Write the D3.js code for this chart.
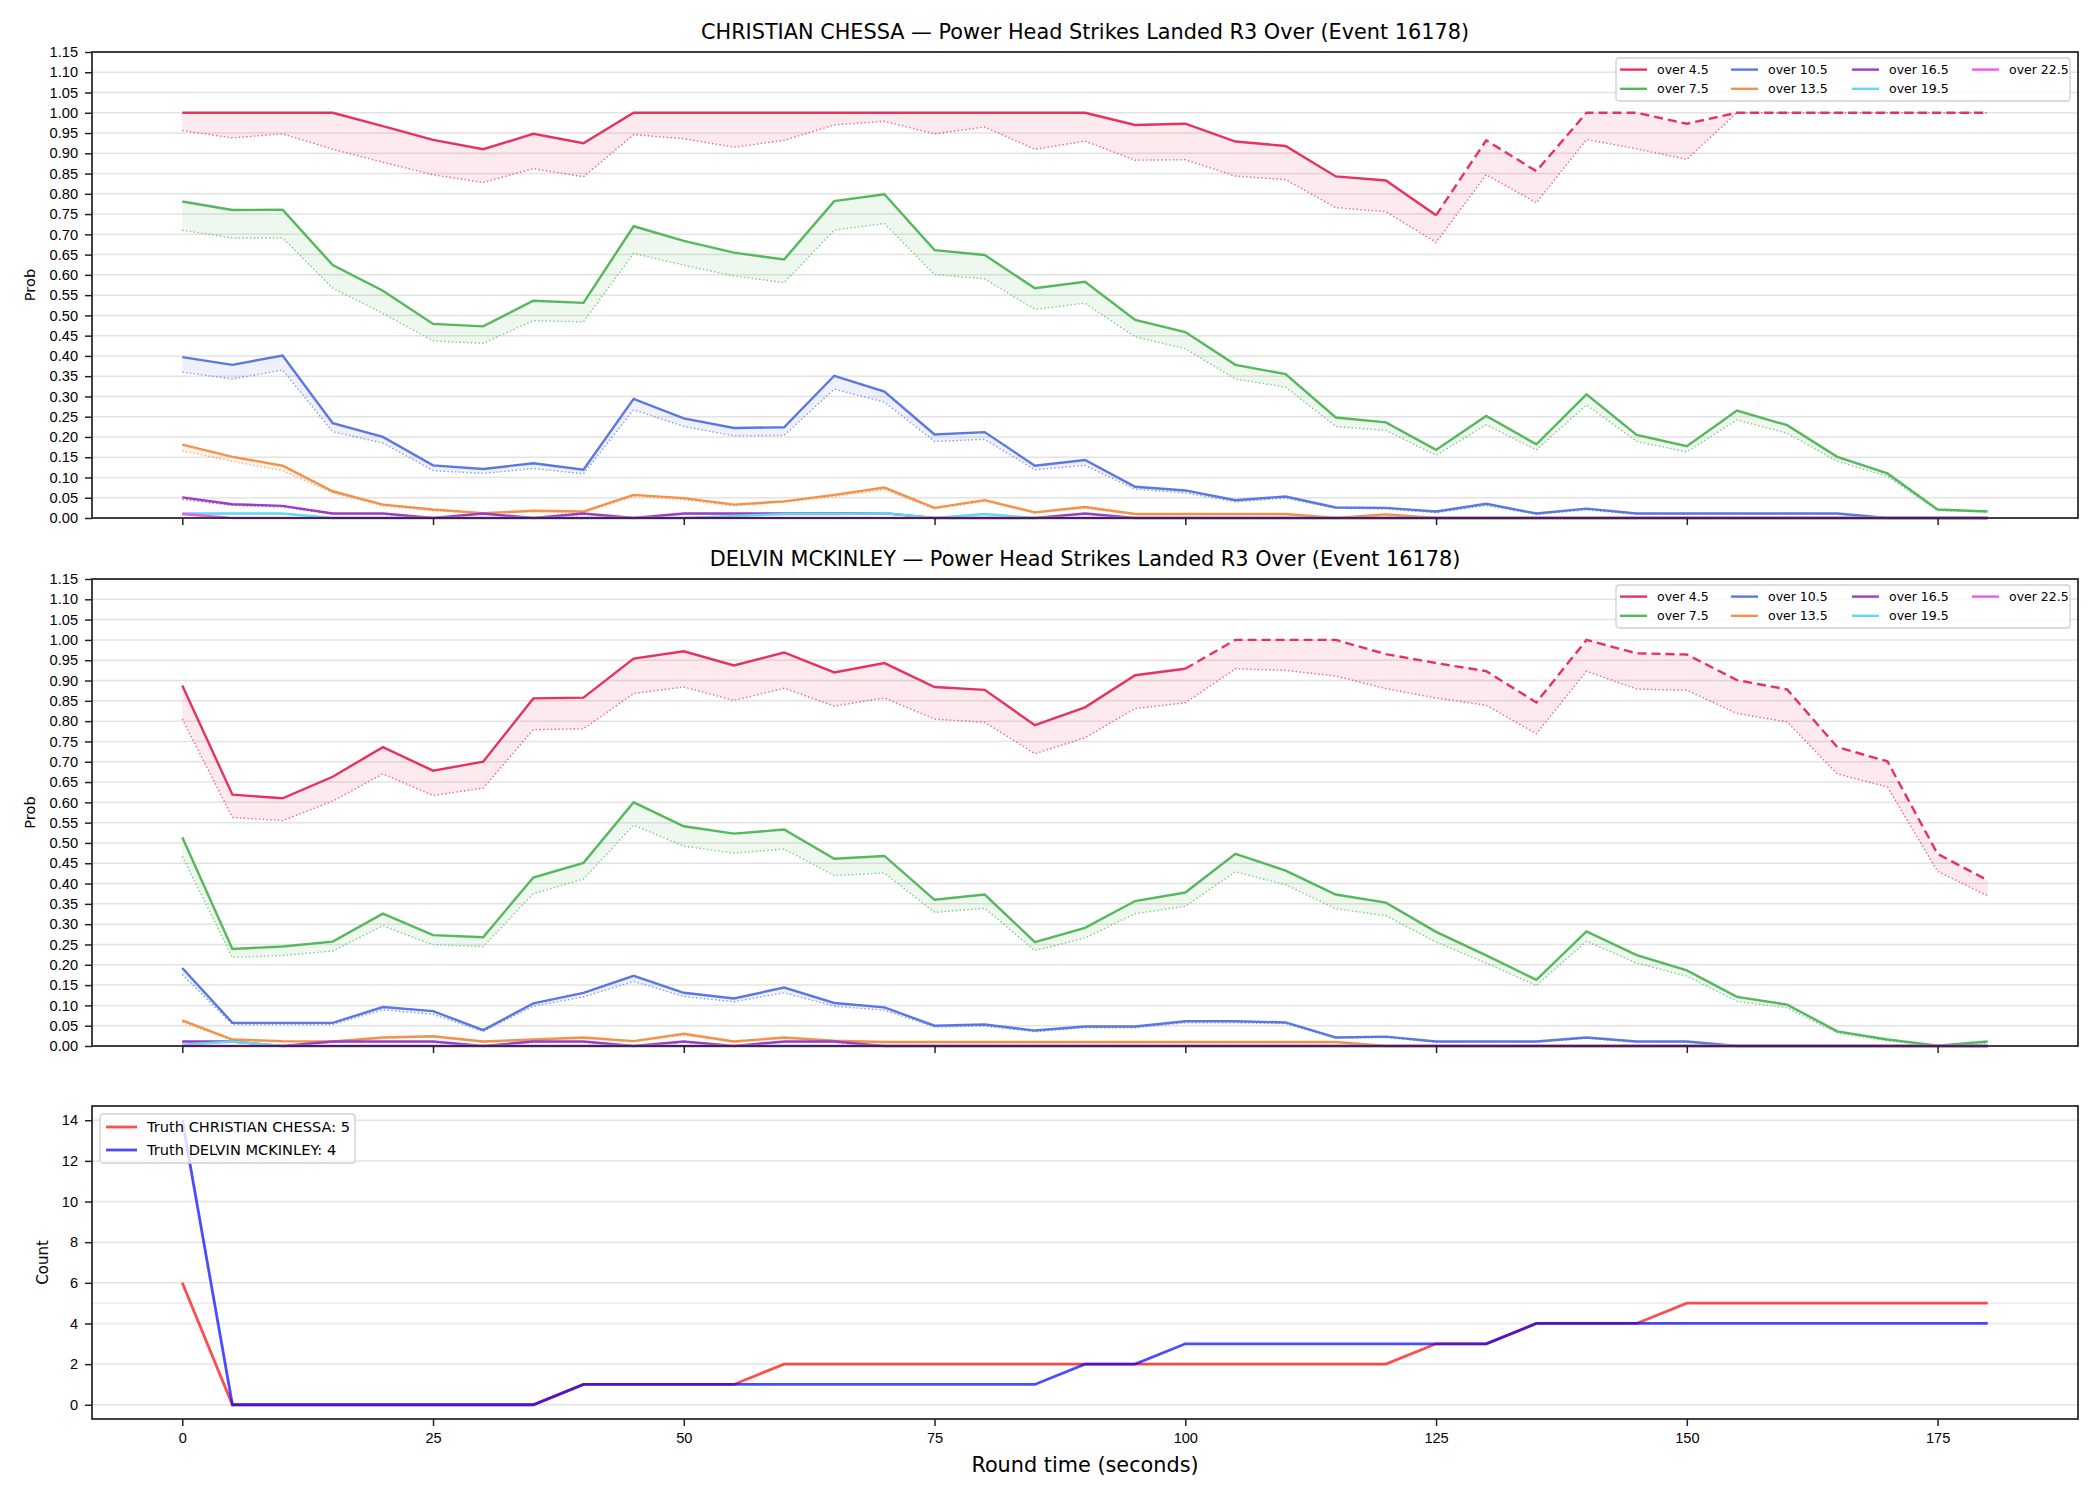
<!DOCTYPE html>
<html>
<head>
<meta charset="utf-8">
<script src="https://cdn.jsdelivr.net/npm/d3@7"></script>
<style>
  body { margin: 0; background: #fff; }
  svg { display: block; font-family: "DejaVu Sans", sans-serif; }
</style>
</head>
<body>
<div id="chart"></div>
<script>
// Time axis and tick labels
const times = [0,5,10,15,20,25,30,35,40,45,50,55,60,65,70,75,80,85,90,95,100,105,110,115,120,125,130,135,140,145,150,155,160,165,170,175,180];
const timeTicks = [0,25,50,75,100,125,150,175];
const probTicks = [0,0.05,0.10,0.15,0.20,0.25,0.30,0.35,0.40,0.45,0.50,0.55,0.60,0.65,0.70,0.75,0.80,0.85,0.90,0.95,1.00,1.05,1.10,1.15];
const countTicks = [0,2,4,6,8,10,12,14];

const lineNames = ["over 4.5", "over 7.5", "over 10.5", "over 13.5", "over 16.5", "over 19.5", "over 22.5"];
const lineColors = ["#e6325c", "#55b85c", "#5b78e0", "#f4924a", "#9a3fc4", "#62d8f2", "#f05ae8"];

// CHRISTIAN CHESSA
const chessaOver45 = [1,1,1,1,0.967,0.933,0.910,0.948,0.925,1,1,1,1,1,1,1,1,1,1,0.970,0.973,0.929,0.918,0.843,0.833,0.747,0.932,0.856,1,1,0.973,1,1,1,1,1,1];
const chessaOver45Low = [0.956,0.938,0.948,0.910,0.878,0.847,0.828,0.862,0.842,0.946,0.936,0.915,0.932,0.970,0.979,0.948,0.965,0.910,0.930,0.883,0.884,0.844,0.835,0.766,0.756,0.680,0.847,0.778,0.934,0.911,0.885,1,1,1,1,1,1];
const chessaOver75 = [0.781,0.760,0.761,0.624,0.561,0.479,0.473,0.536,0.531,0.720,0.684,0.655,0.638,0.782,0.799,0.661,0.649,0.567,0.583,0.489,0.459,0.378,0.355,0.248,0.236,0.168,0.252,0.182,0.305,0.205,0.177,0.265,0.229,0.151,0.110,0.021,0.016];
const chessaOver75Low = [0.710,0.691,0.691,0.567,0.505,0.437,0.431,0.487,0.484,0.653,0.624,0.597,0.581,0.710,0.727,0.601,0.590,0.515,0.530,0.447,0.418,0.343,0.323,0.226,0.216,0.155,0.230,0.168,0.279,0.189,0.163,0.242,0.209,0.140,0.103,0.018,0.015];
const chessaOver105 = [0.397,0.378,0.401,0.234,0.200,0.130,0.121,0.135,0.119,0.294,0.246,0.222,0.224,0.351,0.312,0.206,0.212,0.129,0.143,0.077,0.068,0.044,0.053,0.026,0.025,0.016,0.035,0.011,0.023,0.011,0.011,0.011,0.011,0.011,0,0,0];
const chessaOver105Low = [0.360,0.343,0.365,0.213,0.185,0.117,0.110,0.122,0.109,0.267,0.226,0.203,0.204,0.318,0.286,0.189,0.194,0.119,0.130,0.071,0.062,0.040,0.049,0.024,0.022,0.013,0.031,0.009,0.020,0.009,0.009,0.009,0.009,0.009,0,0,0];
const chessaOver135 = [0.181,0.151,0.129,0.066,0.033,0.021,0.012,0.018,0.016,0.057,0.049,0.033,0.041,0.057,0.075,0.025,0.044,0.014,0.027,0.010,0.010,0.010,0.010,0,0.009,0,0,0,0,0,0,0,0,0,0,0,0];
const chessaOver135Low = [0.166,0.140,0.117,0.062,0.030,0.018,0.011,0.016,0.013,0.053,0.045,0.030,0.039,0.053,0.070,0.022,0.041,0.012,0.024,0.008,0.008,0.008,0.008,0,0.007,0,0,0,0,0,0,0,0,0,0,0,0];
const chessaOver165 = [0.051,0.034,0.030,0.011,0.011,0,0.011,0,0.011,0,0.011,0.011,0.011,0.011,0.012,0,0,0,0.011,0,0,0,0,0,0,0,0,0,0,0,0,0,0,0,0,0,0];
const chessaOver165Low = [0.046,0.031,0.027,0.009,0.009,0,0.009,0,0.009,0,0.009,0.009,0.009,0.009,0.010,0,0,0,0.009,0,0,0,0,0,0,0,0,0,0,0,0,0,0,0,0,0,0];
const chessaOver195 = [0.011,0.011,0.011,0,0,0,0,0,0,0,0,0.005,0.010,0.010,0.012,0,0.010,0,0,0,0,0,0,0,0,0,0,0,0,0,0,0,0,0,0,0,0];
const chessaOver195Low = [0.009,0.009,0.009,0,0,0,0,0,0,0,0,0.004,0.008,0.008,0.010,0,0.008,0,0,0,0,0,0,0,0,0,0,0,0,0,0,0,0,0,0,0,0];
const chessaOver225 = [0.010,0,0,0,0,0,0,0,0,0,0,0,0,0,0,0,0,0,0,0,0,0,0,0,0,0,0,0,0,0,0,0,0,0,0,0,0];
const chessaOver225Low = [0.008,0,0,0,0,0,0,0,0,0,0,0,0,0,0,0,0,0,0,0,0,0,0,0,0,0,0,0,0,0,0,0,0,0,0,0,0];

// DELVIN MCKINLEY
const delvinOver45 = [0.888,0.619,0.610,0.663,0.736,0.678,0.700,0.856,0.858,0.954,0.972,0.937,0.969,0.920,0.943,0.884,0.877,0.790,0.834,0.913,0.929,1,1,1,0.965,0.943,0.923,0.846,1,0.967,0.964,0.901,0.878,0.736,0.701,0.473,0.408];
const delvinOver45Low = [0.805,0.563,0.555,0.603,0.670,0.617,0.635,0.779,0.781,0.868,0.884,0.851,0.881,0.837,0.857,0.805,0.797,0.720,0.759,0.831,0.845,0.929,0.925,0.911,0.880,0.857,0.839,0.769,0.923,0.879,0.876,0.819,0.798,0.670,0.638,0.430,0.370];
const delvinOver75 = [0.514,0.239,0.245,0.257,0.326,0.273,0.268,0.415,0.451,0.600,0.541,0.523,0.533,0.461,0.468,0.360,0.373,0.256,0.291,0.357,0.378,0.473,0.432,0.373,0.353,0.281,0.223,0.163,0.282,0.224,0.186,0.121,0.102,0.036,0.016,0.001,0.011];
const delvinOver75Low = [0.467,0.218,0.223,0.234,0.296,0.249,0.245,0.375,0.411,0.544,0.492,0.475,0.485,0.420,0.426,0.329,0.339,0.235,0.266,0.326,0.344,0.429,0.397,0.338,0.321,0.256,0.204,0.149,0.258,0.204,0.172,0.110,0.094,0.032,0.013,0,0.007];
const delvinOver105 = [0.192,0.057,0.057,0.057,0.096,0.086,0.039,0.105,0.131,0.173,0.131,0.117,0.144,0.106,0.095,0.050,0.053,0.038,0.048,0.048,0.061,0.061,0.058,0.021,0.023,0.011,0.011,0.011,0.021,0.011,0.011,0,0,0,0,0,0];
const delvinOver105Low = [0.176,0.053,0.053,0.053,0.089,0.078,0.036,0.098,0.121,0.159,0.122,0.109,0.131,0.098,0.088,0.047,0.049,0.035,0.045,0.045,0.057,0.057,0.055,0.019,0.021,0.009,0.009,0.009,0.019,0.009,0.009,0,0,0,0,0,0];
const delvinOver135 = [0.063,0.016,0.012,0.011,0.021,0.024,0.011,0.016,0.021,0.012,0.030,0.011,0.021,0.013,0.010,0.010,0.010,0.010,0.010,0.010,0.010,0.010,0.010,0.010,0,0,0,0,0,0,0,0,0,0,0,0,0];
const delvinOver135Low = [0.058,0.014,0.010,0.009,0.019,0.022,0.009,0.014,0.019,0.010,0.027,0.009,0.019,0.011,0.008,0.008,0.008,0.008,0.008,0.008,0.008,0.008,0.008,0.008,0,0,0,0,0,0,0,0,0,0,0,0,0];
const delvinOver165 = [0.011,0.011,0,0.011,0.011,0.011,0,0.011,0.011,0,0.011,0,0.011,0.011,0,0,0,0,0,0,0,0,0,0,0,0,0,0,0,0,0,0,0,0,0,0,0];
const delvinOver165Low = [0.009,0.009,0,0.009,0.009,0.009,0,0.009,0.009,0,0.009,0,0.009,0.009,0,0,0,0,0,0,0,0,0,0,0,0,0,0,0,0,0,0,0,0,0,0,0];
const delvinOver195 = [0.003,0.011,0,0,0,0,0,0,0,0,0,0,0,0,0,0,0,0,0,0,0,0,0,0,0,0,0,0,0,0,0,0,0,0,0,0,0];
const delvinOver195Low = [0.002,0.009,0,0,0,0,0,0,0,0,0,0,0,0,0,0,0,0,0,0,0,0,0,0,0,0,0,0,0,0,0,0,0,0,0,0,0];
const delvinOver225 = [0,0,0,0,0,0,0,0,0,0,0,0,0,0,0,0,0,0,0,0,0,0,0,0,0,0,0,0,0,0,0,0,0,0,0,0,0];
const delvinOver225Low = [0,0,0,0,0,0,0,0,0,0,0,0,0,0,0,0,0,0,0,0,0,0,0,0,0,0,0,0,0,0,0,0,0,0,0,0,0];

// Truth counts
const chessaTruth = [6,0,0,0,0,0,0,0,1,1,1,1,2,2,2,2,2,2,2,2,2,2,2,2,2,3,3,4,4,4,5,5,5,5,5,5,5];
const delvinTruth = [14,0,0,0,0,0,0,0,1,1,1,1,1,1,1,1,1,1,2,2,3,3,3,3,3,3,3,4,4,4,4,4,4,4,4,4,4];
const chessaFinal = 5;
const delvinFinal = 4;

// time from which the "over 4.5" line is drawn dashed
const chessaDashFrom = 125;
const delvinDashFrom = 100;

const width = 2100;
const height = 1500;
const left = 92, right = 2078;

const svg = d3.select("#chart")
  .append("svg")
    .attr("width", width)
    .attr("height", height)
    .attr("viewBox", `0 0 ${width} ${height}`);

const x = d3.scaleLinear().domain([-9, 189]).range([left, right]);

const drawProbPanel = (top, bottom, title, mains, lows, dashFrom) => {
  const y = d3.scaleLinear().domain([0, 1.15]).range([bottom, top]);
  const g = svg.append("g");

  // grid
  g.selectAll(".grid")
    .data(probTicks)
    .join("line")
      .attr("x1", left).attr("x2", right)
      .attr("y1", d => y(d)).attr("y2", d => y(d))
      .attr("stroke", "#e3e3e3")
      .attr("stroke-width", 1.5);

  const series = lineNames.map((name, i) => ({
    name,
    color: lineColors[i],
    pts: times.map((t, j) => ({ t, v: mains[i][j], lo: lows[i][j] }))
  }));

  const area = d3.area()
    .x(d => x(d.t))
    .y0(d => y(d.lo))
    .y1(d => y(d.v));
  const mainLine = d3.line().x(d => x(d.t)).y(d => y(d.v));
  const lowLine = d3.line().x(d => x(d.t)).y(d => y(d.lo));

  series.forEach((s, i) => {
    g.append("path")
      .attr("d", area(s.pts))
      .attr("fill", s.color)
      .attr("fill-opacity", 0.1);

    if (i === 0) {
      g.append("path")
        .attr("d", mainLine(s.pts.filter(d => d.t <= dashFrom)))
        .attr("fill", "none")
        .attr("stroke", s.color)
        .attr("stroke-width", 2.4);
      g.append("path")
        .attr("d", mainLine(s.pts.filter(d => d.t >= dashFrom)))
        .attr("fill", "none")
        .attr("stroke", s.color)
        .attr("stroke-width", 2.4)
        .attr("stroke-dasharray", "9,5");
    } else {
      g.append("path")
        .attr("d", mainLine(s.pts))
        .attr("fill", "none")
        .attr("stroke", s.color)
        .attr("stroke-width", 2.4);
    }

    g.append("path")
      .attr("d", lowLine(s.pts))
      .attr("fill", "none")
      .attr("stroke", s.color)
      .attr("stroke-opacity", 0.75)
      .attr("stroke-width", 1.4)
      .attr("stroke-dasharray", "1.4,2.4");
  });

  // axes
  const yAxis = g.append("g")
    .attr("transform", `translate(${left},0)`)
    .call(d3.axisLeft(y).tickValues(probTicks).tickFormat(d3.format(".2f")).tickSize(7).tickPadding(7));
  const xAxis = g.append("g")
    .attr("transform", `translate(0,${bottom})`)
    .call(d3.axisBottom(x).tickValues(timeTicks).tickFormat("").tickSize(7));
  [yAxis, xAxis].forEach(a => {
    a.select(".domain").remove();
    a.selectAll("line").attr("stroke", "#222").attr("stroke-width", 1.5);
    a.selectAll("text").style("font-size", "14.6px").attr("fill", "#000");
  });

  g.append("rect")
    .attr("x", left).attr("y", top)
    .attr("width", right - left).attr("height", bottom - top)
    .attr("fill", "none")
    .attr("stroke", "#222")
    .attr("stroke-width", 1.7);

  g.append("text")
    .attr("x", (left + right) / 2)
    .attr("y", top - 13)
    .attr("text-anchor", "middle")
    .style("font-size", "20.8px")
    .text(title);

  g.append("text")
    .attr("transform", `translate(35,${(top + bottom) / 2}) rotate(-90)`)
    .attr("text-anchor", "middle")
    .style("font-size", "14.6px")
    .text("Prob");

  // legend, 4 columns filled column by column
  const lx = 1616, ly = top + 6;
  const leg = g.append("g").attr("transform", `translate(${lx},${ly})`);
  leg.append("rect")
    .attr("width", 454).attr("height", 43)
    .attr("rx", 3)
    .attr("fill", "#fff").attr("fill-opacity", 0.8)
    .attr("stroke", "#d0d0d0").attr("stroke-width", 1.3);
  const colX = [4, 115, 236, 356];
  const rowY = [11.6, 30.8];
  series.forEach((s, i) => {
    const cx = colX[Math.floor(i / 2)];
    const cy = rowY[i % 2];
    leg.append("line")
      .attr("x1", cx).attr("x2", cx + 27)
      .attr("y1", cy).attr("y2", cy)
      .attr("stroke", s.color)
      .attr("stroke-width", 2.4);
    leg.append("text")
      .attr("x", cx + 37).attr("y", cy + 4.4)
      .style("font-size", "12.5px")
      .text(s.name);
  });
};

drawProbPanel(52, 518, "CHRISTIAN CHESSA \u2014 Power Head Strikes Landed R3 Over (Event 16178)",
  [chessaOver45, chessaOver75, chessaOver105, chessaOver135, chessaOver165, chessaOver195, chessaOver225],
  [chessaOver45Low, chessaOver75Low, chessaOver105Low, chessaOver135Low, chessaOver165Low, chessaOver195Low, chessaOver225Low],
  chessaDashFrom);

drawProbPanel(579, 1046, "DELVIN MCKINLEY \u2014 Power Head Strikes Landed R3 Over (Event 16178)",
  [delvinOver45, delvinOver75, delvinOver105, delvinOver135, delvinOver165, delvinOver195, delvinOver225],
  [delvinOver45Low, delvinOver75Low, delvinOver105Low, delvinOver135Low, delvinOver165Low, delvinOver195Low, delvinOver225Low],
  delvinDashFrom);

// Truth count panel
const cTop = 1106, cBottom = 1419;
const yc = d3.scaleLinear().domain([-0.7, 14.7]).range([cBottom, cTop]);
const gc = svg.append("g");

gc.selectAll(".grid")
  .data(countTicks)
  .join("line")
    .attr("x1", left).attr("x2", right)
    .attr("y1", d => yc(d)).attr("y2", d => yc(d))
    .attr("stroke", "#e3e3e3")
    .attr("stroke-width", 1.5);

gc.selectAll(".final")
  .data([chessaFinal, delvinFinal])
  .join("line")
    .attr("x1", left).attr("x2", right)
    .attr("y1", d => yc(d)).attr("y2", d => yc(d))
    .attr("stroke", "#ececec")
    .attr("stroke-width", 1.5);

const truthSeries = [
  { name: `Truth CHRISTIAN CHESSA: ${chessaFinal}`, color: "#ff0000", vals: chessaTruth },
  { name: `Truth DELVIN MCKINLEY: ${delvinFinal}`, color: "#0000ff", vals: delvinTruth }
];
const truthLine = d3.line().x(d => x(d.t)).y(d => yc(d.v));
truthSeries.forEach(s => {
  gc.append("path")
    .attr("d", truthLine(times.map((t, j) => ({ t, v: s.vals[j] }))))
    .attr("fill", "none")
    .attr("stroke", s.color)
    .attr("stroke-opacity", 0.7)
    .attr("stroke-width", 2.8);
});

const cyAxis = gc.append("g")
  .attr("transform", `translate(${left},0)`)
  .call(d3.axisLeft(yc).tickValues(countTicks).tickSize(7).tickPadding(7));
const cxAxis = gc.append("g")
  .attr("transform", `translate(0,${cBottom})`)
  .call(d3.axisBottom(x).tickValues(timeTicks).tickSize(7).tickPadding(7));
[cyAxis, cxAxis].forEach(a => {
  a.select(".domain").remove();
  a.selectAll("line").attr("stroke", "#222").attr("stroke-width", 1.5);
  a.selectAll("text").style("font-size", "14.6px").attr("fill", "#000");
});

gc.append("rect")
  .attr("x", left).attr("y", cTop)
  .attr("width", right - left).attr("height", cBottom - cTop)
  .attr("fill", "none")
  .attr("stroke", "#222")
  .attr("stroke-width", 1.7);

gc.append("text")
  .attr("transform", `translate(48,${(cTop + cBottom) / 2}) rotate(-90)`)
  .attr("text-anchor", "middle")
  .style("font-size", "15px")
  .text("Count");

gc.append("text")
  .attr("x", (left + right) / 2)
  .attr("y", 1472)
  .attr("text-anchor", "middle")
  .style("font-size", "20.8px")
  .text("Round time (seconds)");

const cleg = gc.append("g").attr("transform", "translate(100,1114)");
cleg.append("rect")
  .attr("width", 255).attr("height", 49)
  .attr("rx", 3)
  .attr("fill", "#fff").attr("fill-opacity", 0.8)
  .attr("stroke", "#d0d0d0").attr("stroke-width", 1.3);
truthSeries.forEach((s, i) => {
  const cy = 13 + i * 23;
  cleg.append("line")
    .attr("x1", 6).attr("x2", 37)
    .attr("y1", cy).attr("y2", cy)
    .attr("stroke", s.color)
    .attr("stroke-opacity", 0.7)
    .attr("stroke-width", 2.8);
  cleg.append("text")
    .attr("x", 47).attr("y", cy + 5)
    .style("font-size", "14.6px")
    .text(s.name);
});
</script>
</body>
</html>
